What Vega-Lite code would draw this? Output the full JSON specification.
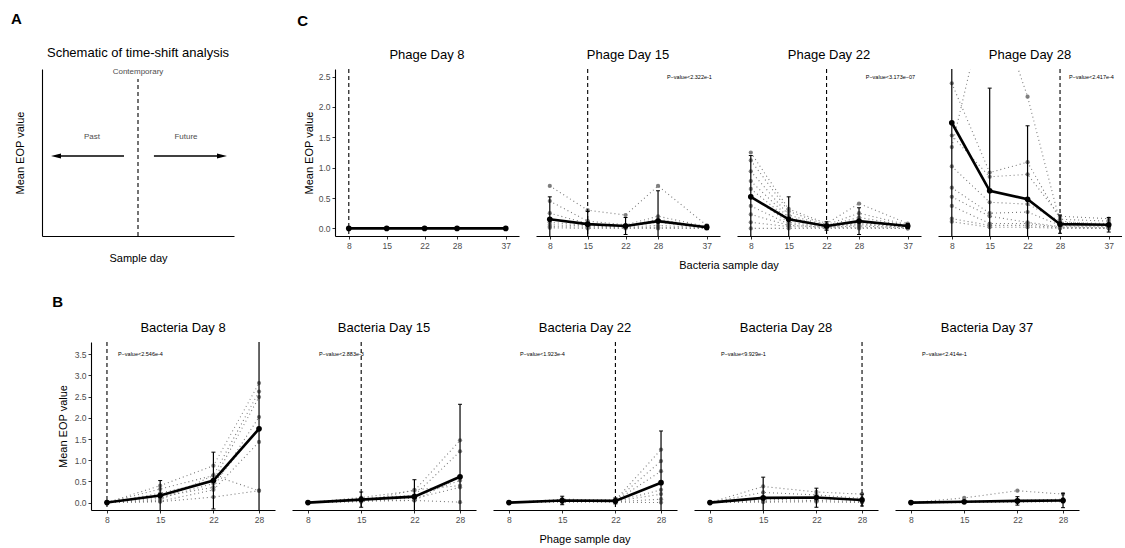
{
 "$schema": "https://vega.github.io/schema/vega-lite/v6.json",
 "padding": {"left": 11, "top": 12, "right": 0, "bottom": 0},
 "background": "white",
 "config": {
  "font": "Liberation Sans",
  "view": {"stroke": null},
  "axis": {"grid": false, "domainColor": "black", "domainWidth": 1.1, "tickColor": "#333333", "tickSize": 3, "tickWidth": 1, "labelColor": "#4d4d4d", "labelFontSize": 8.5, "labelPadding": 2, "labelOverlap": false, "labelSeparation": 0, "titleFontSize": 11, "titleFontWeight": "normal", "titleColor": "black", "titlePadding": 4},
  "axisY": {"labelOverlap": false},
  "header": {"labelFontSize": 13, "labelFontWeight": "normal", "labelColor": "black", "labelPadding": 7, "titleFontSize": 11, "titleFontWeight": "normal", "titleColor": "black", "titleOrient": "bottom", "labelOrient": "top", "titlePadding": 0}
 },
 "datasets": {
  "C": [
   {"t":"rep","f":8,"r":"a","x":8,"v":0},{"t":"rep","f":8,"r":"a","x":15,"v":0},{"t":"rep","f":8,"r":"a","x":22,"v":0},{"t":"rep","f":8,"r":"a","x":28,"v":0},{"t":"rep","f":8,"r":"a","x":37,"v":0},
   {"t":"rep","f":8,"r":"b","x":8,"v":0},{"t":"rep","f":8,"r":"b","x":15,"v":0},{"t":"rep","f":8,"r":"b","x":22,"v":0},{"t":"rep","f":8,"r":"b","x":28,"v":0},{"t":"rep","f":8,"r":"b","x":37,"v":0},
   {"t":"rep","f":15,"r":"a","x":8,"v":0.70},{"t":"rep","f":15,"r":"a","x":15,"v":0.30},{"t":"rep","f":15,"r":"a","x":22,"v":0.22},{"t":"rep","f":15,"r":"a","x":28,"v":0.70},{"t":"rep","f":15,"r":"a","x":37,"v":0.05},
   {"t":"rep","f":15,"r":"b","x":8,"v":0.45},{"t":"rep","f":15,"r":"b","x":15,"v":0.12},{"t":"rep","f":15,"r":"b","x":22,"v":0.06},{"t":"rep","f":15,"r":"b","x":28,"v":0.20},{"t":"rep","f":15,"r":"b","x":37,"v":0.03},
   {"t":"rep","f":15,"r":"c","x":8,"v":0.25},{"t":"rep","f":15,"r":"c","x":15,"v":0.08},{"t":"rep","f":15,"r":"c","x":22,"v":0.04},{"t":"rep","f":15,"r":"c","x":28,"v":0.15},{"t":"rep","f":15,"r":"c","x":37,"v":0.02},
   {"t":"rep","f":15,"r":"d","x":8,"v":0.10},{"t":"rep","f":15,"r":"d","x":15,"v":0.05},{"t":"rep","f":15,"r":"d","x":22,"v":0.03},{"t":"rep","f":15,"r":"d","x":28,"v":0.10},{"t":"rep","f":15,"r":"d","x":37,"v":0.01},
   {"t":"rep","f":15,"r":"e","x":8,"v":0.06},{"t":"rep","f":15,"r":"e","x":15,"v":0.04},{"t":"rep","f":15,"r":"e","x":22,"v":0.02},{"t":"rep","f":15,"r":"e","x":28,"v":0.05},{"t":"rep","f":15,"r":"e","x":37,"v":0.01},
   {"t":"rep","f":15,"r":"f","x":8,"v":0.03},{"t":"rep","f":15,"r":"f","x":15,"v":0.02},{"t":"rep","f":15,"r":"f","x":22,"v":0.01},{"t":"rep","f":15,"r":"f","x":28,"v":0.02},{"t":"rep","f":15,"r":"f","x":37,"v":0},
   {"t":"rep","f":15,"r":"g","x":8,"v":0.01},{"t":"rep","f":15,"r":"g","x":15,"v":0},{"t":"rep","f":15,"r":"g","x":22,"v":0},{"t":"rep","f":15,"r":"g","x":28,"v":0},{"t":"rep","f":15,"r":"g","x":37,"v":0},
   {"t":"rep","f":22,"r":"a","x":8,"v":1.25},{"t":"rep","f":22,"r":"a","x":15,"v":0.32},{"t":"rep","f":22,"r":"a","x":22,"v":0.08},{"t":"rep","f":22,"r":"a","x":28,"v":0.41},{"t":"rep","f":22,"r":"a","x":37,"v":0.08},
   {"t":"rep","f":22,"r":"b","x":8,"v":1.12},{"t":"rep","f":22,"r":"b","x":15,"v":0.28},{"t":"rep","f":22,"r":"b","x":22,"v":0.06},{"t":"rep","f":22,"r":"b","x":28,"v":0.25},{"t":"rep","f":22,"r":"b","x":37,"v":0.06},
   {"t":"rep","f":22,"r":"c","x":8,"v":0.94},{"t":"rep","f":22,"r":"c","x":15,"v":0.22},{"t":"rep","f":22,"r":"c","x":22,"v":0.05},{"t":"rep","f":22,"r":"c","x":28,"v":0.18},{"t":"rep","f":22,"r":"c","x":37,"v":0.05},
   {"t":"rep","f":22,"r":"d","x":8,"v":0.78},{"t":"rep","f":22,"r":"d","x":15,"v":0.18},{"t":"rep","f":22,"r":"d","x":22,"v":0.04},{"t":"rep","f":22,"r":"d","x":28,"v":0.12},{"t":"rep","f":22,"r":"d","x":37,"v":0.04},
   {"t":"rep","f":22,"r":"e","x":8,"v":0.65},{"t":"rep","f":22,"r":"e","x":15,"v":0.15},{"t":"rep","f":22,"r":"e","x":22,"v":0.03},{"t":"rep","f":22,"r":"e","x":28,"v":0.10},{"t":"rep","f":22,"r":"e","x":37,"v":0.03},
   {"t":"rep","f":22,"r":"f","x":8,"v":0.53},{"t":"rep","f":22,"r":"f","x":15,"v":0.10},{"t":"rep","f":22,"r":"f","x":22,"v":0.03},{"t":"rep","f":22,"r":"f","x":28,"v":0.08},{"t":"rep","f":22,"r":"f","x":37,"v":0.02},
   {"t":"rep","f":22,"r":"g","x":8,"v":0.37},{"t":"rep","f":22,"r":"g","x":15,"v":0.07},{"t":"rep","f":22,"r":"g","x":22,"v":0.02},{"t":"rep","f":22,"r":"g","x":28,"v":0.06},{"t":"rep","f":22,"r":"g","x":37,"v":0.02},
   {"t":"rep","f":22,"r":"h","x":8,"v":0.23},{"t":"rep","f":22,"r":"h","x":15,"v":0.05},{"t":"rep","f":22,"r":"h","x":22,"v":0.02},{"t":"rep","f":22,"r":"h","x":28,"v":0.04},{"t":"rep","f":22,"r":"h","x":37,"v":0.01},
   {"t":"rep","f":22,"r":"i","x":8,"v":0.10},{"t":"rep","f":22,"r":"i","x":15,"v":0.03},{"t":"rep","f":22,"r":"i","x":22,"v":0.01},{"t":"rep","f":22,"r":"i","x":28,"v":0.02},{"t":"rep","f":22,"r":"i","x":37,"v":0},
   {"t":"rep","f":22,"r":"j","x":8,"v":0},{"t":"rep","f":22,"r":"j","x":15,"v":0},{"t":"rep","f":22,"r":"j","x":22,"v":0},{"t":"rep","f":22,"r":"j","x":28,"v":0},{"t":"rep","f":22,"r":"j","x":37,"v":0},
   {"t":"rep","f":28,"r":"a","x":8,"v":2.39},{"t":"rep","f":28,"r":"a","x":15,"v":0.92},{"t":"rep","f":28,"r":"a","x":22,"v":1.09},{"t":"rep","f":28,"r":"a","x":28,"v":0.15},{"t":"rep","f":28,"r":"a","x":37,"v":0.12},
   {"t":"rep","f":28,"r":"b","x":8,"v":1.53},{"t":"rep","f":28,"r":"b","x":15,"v":0.85},{"t":"rep","f":28,"r":"b","x":22,"v":0.89},{"t":"rep","f":28,"r":"b","x":28,"v":0.20},{"t":"rep","f":28,"r":"b","x":37,"v":0.16},
   {"t":"rep","f":28,"r":"c","x":8,"v":1.34},{"t":"rep","f":28,"r":"c","x":15,"v":4.0},{"t":"rep","f":28,"r":"c","x":22,"v":2.17},{"t":"rep","f":28,"r":"c","x":28,"v":0.10},{"t":"rep","f":28,"r":"c","x":37,"v":0.08},
   {"t":"rep","f":28,"r":"d","x":8,"v":1.02},{"t":"rep","f":28,"r":"d","x":15,"v":0.43},{"t":"rep","f":28,"r":"d","x":22,"v":0.40},{"t":"rep","f":28,"r":"d","x":28,"v":0.12},{"t":"rep","f":28,"r":"d","x":37,"v":0.05},
   {"t":"rep","f":28,"r":"e","x":8,"v":0.67},{"t":"rep","f":28,"r":"e","x":15,"v":0.25},{"t":"rep","f":28,"r":"e","x":22,"v":0.27},{"t":"rep","f":28,"r":"e","x":28,"v":0.05},{"t":"rep","f":28,"r":"e","x":37,"v":0.03},
   {"t":"rep","f":28,"r":"f","x":8,"v":0.52},{"t":"rep","f":28,"r":"f","x":15,"v":0.20},{"t":"rep","f":28,"r":"f","x":22,"v":0.10},{"t":"rep","f":28,"r":"f","x":28,"v":0.03},{"t":"rep","f":28,"r":"f","x":37,"v":0.02},
   {"t":"rep","f":28,"r":"g","x":8,"v":0.37},{"t":"rep","f":28,"r":"g","x":15,"v":0.08},{"t":"rep","f":28,"r":"g","x":22,"v":0.08},{"t":"rep","f":28,"r":"g","x":28,"v":0.02},{"t":"rep","f":28,"r":"g","x":37,"v":0.01},
   {"t":"rep","f":28,"r":"h","x":8,"v":0.16},{"t":"rep","f":28,"r":"h","x":15,"v":0.05},{"t":"rep","f":28,"r":"h","x":22,"v":0.05},{"t":"rep","f":28,"r":"h","x":28,"v":0.01},{"t":"rep","f":28,"r":"h","x":37,"v":0},
   {"t":"rep","f":28,"r":"i","x":8,"v":0.11},{"t":"rep","f":28,"r":"i","x":15,"v":0.02},{"t":"rep","f":28,"r":"i","x":22,"v":0.02},{"t":"rep","f":28,"r":"i","x":28,"v":0},{"t":"rep","f":28,"r":"i","x":37,"v":0},
   {"t":"mean","f":8,"x":8,"v":0,"lo":0,"hi":0},{"t":"mean","f":8,"x":15,"v":0,"lo":0,"hi":0},{"t":"mean","f":8,"x":22,"v":0,"lo":0,"hi":0},{"t":"mean","f":8,"x":28,"v":0,"lo":0,"hi":0},{"t":"mean","f":8,"x":37,"v":0,"lo":0,"hi":0},
   {"t":"mean","f":15,"x":8,"v":0.15,"lo":-0.22,"hi":0.52},{"t":"mean","f":15,"x":15,"v":0.07,"lo":-0.14,"hi":0.28},{"t":"mean","f":15,"x":22,"v":0.04,"lo":-0.10,"hi":0.18},{"t":"mean","f":15,"x":28,"v":0.12,"lo":-0.38,"hi":0.62},{"t":"mean","f":15,"x":37,"v":0.02,"lo":-0.02,"hi":0.06},
   {"t":"mean","f":22,"x":8,"v":0.52,"lo":-0.16,"hi":1.2},{"t":"mean","f":22,"x":15,"v":0.15,"lo":-0.22,"hi":0.52},{"t":"mean","f":22,"x":22,"v":0.04,"lo":-0.03,"hi":0.11},{"t":"mean","f":22,"x":28,"v":0.12,"lo":-0.10,"hi":0.34},{"t":"mean","f":22,"x":37,"v":0.04,"lo":0,"hi":0.08},
   {"t":"mean","f":28,"x":8,"v":1.74,"lo":-0.26,"hi":3.74},{"t":"mean","f":28,"x":15,"v":0.62,"lo":-1.07,"hi":2.31},{"t":"mean","f":28,"x":22,"v":0.48,"lo":-0.73,"hi":1.69},{"t":"mean","f":28,"x":28,"v":0.07,"lo":-0.08,"hi":0.22},{"t":"mean","f":28,"x":37,"v":0.06,"lo":-0.06,"hi":0.18},
   {"t":"ref","f":8,"x":8},{"t":"ref","f":15,"x":15},{"t":"ref","f":22,"x":22},{"t":"ref","f":28,"x":28},
   {"t":"p","f":15,"label":"P−value<2.322e-1"},{"t":"p","f":22,"label":"P−value<3.173e−07"},{"t":"p","f":28,"label":"P−value<2.417e-4"}
  ],
  "B": [
   {"t":"rep","f":8,"r":"a","x":8,"v":0},{"t":"rep","f":8,"r":"a","x":15,"v":0.40},{"t":"rep","f":8,"r":"a","x":22,"v":0.87},{"t":"rep","f":8,"r":"a","x":28,"v":2.82},
   {"t":"rep","f":8,"r":"b","x":8,"v":0},{"t":"rep","f":8,"r":"b","x":15,"v":0.32},{"t":"rep","f":8,"r":"b","x":22,"v":0.64},{"t":"rep","f":8,"r":"b","x":28,"v":2.62},
   {"t":"rep","f":8,"r":"c","x":8,"v":0},{"t":"rep","f":8,"r":"c","x":15,"v":0.22},{"t":"rep","f":8,"r":"c","x":22,"v":0.52},{"t":"rep","f":8,"r":"c","x":28,"v":2.49},
   {"t":"rep","f":8,"r":"d","x":8,"v":0},{"t":"rep","f":8,"r":"d","x":15,"v":0.14},{"t":"rep","f":8,"r":"d","x":22,"v":0.36},{"t":"rep","f":8,"r":"d","x":28,"v":2.02},
   {"t":"rep","f":8,"r":"e","x":8,"v":0},{"t":"rep","f":8,"r":"e","x":15,"v":0.06},{"t":"rep","f":8,"r":"e","x":22,"v":0.64},{"t":"rep","f":8,"r":"e","x":28,"v":0.28},
   {"t":"rep","f":8,"r":"f","x":8,"v":0},{"t":"rep","f":8,"r":"f","x":15,"v":0.02},{"t":"rep","f":8,"r":"f","x":22,"v":0.13},{"t":"rep","f":8,"r":"f","x":28,"v":0.28},
   {"t":"rep","f":8,"r":"g","x":8,"v":0},{"t":"rep","f":8,"r":"g","x":15,"v":0.10},{"t":"rep","f":8,"r":"g","x":22,"v":0.45},{"t":"rep","f":8,"r":"g","x":28,"v":1.75},
   {"t":"rep","f":8,"r":"h","x":8,"v":0},{"t":"rep","f":8,"r":"h","x":15,"v":0.03},{"t":"rep","f":8,"r":"h","x":22,"v":0.30},{"t":"rep","f":8,"r":"h","x":28,"v":1.43},
   {"t":"rep","f":15,"r":"a","x":8,"v":0},{"t":"rep","f":15,"r":"a","x":15,"v":0.12},{"t":"rep","f":15,"r":"a","x":22,"v":0.28},{"t":"rep","f":15,"r":"a","x":28,"v":1.47},
   {"t":"rep","f":15,"r":"b","x":8,"v":0},{"t":"rep","f":15,"r":"b","x":15,"v":0.10},{"t":"rep","f":15,"r":"b","x":22,"v":0.17},{"t":"rep","f":15,"r":"b","x":28,"v":1.21},
   {"t":"rep","f":15,"r":"c","x":8,"v":0},{"t":"rep","f":15,"r":"c","x":15,"v":0.08},{"t":"rep","f":15,"r":"c","x":22,"v":0.15},{"t":"rep","f":15,"r":"c","x":28,"v":0.52},
   {"t":"rep","f":15,"r":"d","x":8,"v":0},{"t":"rep","f":15,"r":"d","x":15,"v":0.06},{"t":"rep","f":15,"r":"d","x":22,"v":0.10},{"t":"rep","f":15,"r":"d","x":28,"v":0.36},
   {"t":"rep","f":15,"r":"e","x":8,"v":0},{"t":"rep","f":15,"r":"e","x":15,"v":0.05},{"t":"rep","f":15,"r":"e","x":22,"v":0.05},{"t":"rep","f":15,"r":"e","x":28,"v":0.60},
   {"t":"rep","f":15,"r":"f","x":8,"v":0},{"t":"rep","f":15,"r":"f","x":15,"v":0.03},{"t":"rep","f":15,"r":"f","x":22,"v":0.05},{"t":"rep","f":15,"r":"f","x":28,"v":0.01},
   {"t":"rep","f":15,"r":"g","x":8,"v":0},{"t":"rep","f":15,"r":"g","x":15,"v":0.02},{"t":"rep","f":15,"r":"g","x":22,"v":0.30},{"t":"rep","f":15,"r":"g","x":28,"v":0.40},
   {"t":"rep","f":22,"r":"a","x":8,"v":0},{"t":"rep","f":22,"r":"a","x":15,"v":0.08},{"t":"rep","f":22,"r":"a","x":22,"v":0.06},{"t":"rep","f":22,"r":"a","x":28,"v":1.25},
   {"t":"rep","f":22,"r":"b","x":8,"v":0},{"t":"rep","f":22,"r":"b","x":15,"v":0.06},{"t":"rep","f":22,"r":"b","x":22,"v":0.05},{"t":"rep","f":22,"r":"b","x":28,"v":0.98},
   {"t":"rep","f":22,"r":"c","x":8,"v":0},{"t":"rep","f":22,"r":"c","x":15,"v":0.05},{"t":"rep","f":22,"r":"c","x":22,"v":0.04},{"t":"rep","f":22,"r":"c","x":28,"v":0.74},
   {"t":"rep","f":22,"r":"d","x":8,"v":0},{"t":"rep","f":22,"r":"d","x":15,"v":0.04},{"t":"rep","f":22,"r":"d","x":22,"v":0.03},{"t":"rep","f":22,"r":"d","x":28,"v":0.30},
   {"t":"rep","f":22,"r":"e","x":8,"v":0},{"t":"rep","f":22,"r":"e","x":15,"v":0.03},{"t":"rep","f":22,"r":"e","x":22,"v":0.03},{"t":"rep","f":22,"r":"e","x":28,"v":0.20},
   {"t":"rep","f":22,"r":"f","x":8,"v":0},{"t":"rep","f":22,"r":"f","x":15,"v":0.02},{"t":"rep","f":22,"r":"f","x":22,"v":0.02},{"t":"rep","f":22,"r":"f","x":28,"v":0.08},
   {"t":"rep","f":22,"r":"g","x":8,"v":0},{"t":"rep","f":22,"r":"g","x":15,"v":0.01},{"t":"rep","f":22,"r":"g","x":22,"v":0.01},{"t":"rep","f":22,"r":"g","x":28,"v":0},
   {"t":"rep","f":28,"r":"a","x":8,"v":0},{"t":"rep","f":28,"r":"a","x":15,"v":0.38},{"t":"rep","f":28,"r":"a","x":22,"v":0.25},{"t":"rep","f":28,"r":"a","x":28,"v":0.20},
   {"t":"rep","f":28,"r":"b","x":8,"v":0},{"t":"rep","f":28,"r":"b","x":15,"v":0.24},{"t":"rep","f":28,"r":"b","x":22,"v":0.18},{"t":"rep","f":28,"r":"b","x":28,"v":0.10},
   {"t":"rep","f":28,"r":"c","x":8,"v":0},{"t":"rep","f":28,"r":"c","x":15,"v":0.12},{"t":"rep","f":28,"r":"c","x":22,"v":0.12},{"t":"rep","f":28,"r":"c","x":28,"v":0.05},
   {"t":"rep","f":28,"r":"d","x":8,"v":0},{"t":"rep","f":28,"r":"d","x":15,"v":0.06},{"t":"rep","f":28,"r":"d","x":22,"v":0.10},{"t":"rep","f":28,"r":"d","x":28,"v":0.04},
   {"t":"rep","f":28,"r":"e","x":8,"v":0},{"t":"rep","f":28,"r":"e","x":15,"v":0.03},{"t":"rep","f":28,"r":"e","x":22,"v":0.05},{"t":"rep","f":28,"r":"e","x":28,"v":0.02},
   {"t":"rep","f":28,"r":"f","x":8,"v":0},{"t":"rep","f":28,"r":"f","x":15,"v":0.01},{"t":"rep","f":28,"r":"f","x":22,"v":0.02},{"t":"rep","f":28,"r":"f","x":28,"v":0},
   {"t":"rep","f":37,"r":"a","x":8,"v":0},{"t":"rep","f":37,"r":"a","x":15,"v":0.11},{"t":"rep","f":37,"r":"a","x":22,"v":0.28},{"t":"rep","f":37,"r":"a","x":28,"v":0.20},
   {"t":"rep","f":37,"r":"b","x":8,"v":0},{"t":"rep","f":37,"r":"b","x":15,"v":0.03},{"t":"rep","f":37,"r":"b","x":22,"v":0.05},{"t":"rep","f":37,"r":"b","x":28,"v":0.08},
   {"t":"rep","f":37,"r":"c","x":8,"v":0},{"t":"rep","f":37,"r":"c","x":15,"v":0.01},{"t":"rep","f":37,"r":"c","x":22,"v":0.03},{"t":"rep","f":37,"r":"c","x":28,"v":0.05},
   {"t":"rep","f":37,"r":"d","x":8,"v":0},{"t":"rep","f":37,"r":"d","x":15,"v":0},{"t":"rep","f":37,"r":"d","x":22,"v":0.01},{"t":"rep","f":37,"r":"d","x":28,"v":0.02},
   {"t":"mean","f":8,"x":8,"v":0,"lo":0,"hi":0},{"t":"mean","f":8,"x":15,"v":0.165,"lo":-0.19,"hi":0.52},{"t":"mean","f":8,"x":22,"v":0.52,"lo":-0.15,"hi":1.19},{"t":"mean","f":8,"x":28,"v":1.74,"lo":-0.5,"hi":3.98},
   {"t":"mean","f":15,"x":8,"v":0,"lo":0,"hi":0},{"t":"mean","f":15,"x":15,"v":0.07,"lo":-0.11,"hi":0.25},{"t":"mean","f":15,"x":22,"v":0.14,"lo":-0.26,"hi":0.54},{"t":"mean","f":15,"x":28,"v":0.61,"lo":-1.1,"hi":2.32},
   {"t":"mean","f":22,"x":8,"v":0,"lo":0,"hi":0},{"t":"mean","f":22,"x":15,"v":0.05,"lo":-0.05,"hi":0.15},{"t":"mean","f":22,"x":22,"v":0.04,"lo":-0.03,"hi":0.11},{"t":"mean","f":22,"x":28,"v":0.47,"lo":-0.75,"hi":1.69},
   {"t":"mean","f":28,"x":8,"v":0,"lo":0,"hi":0},{"t":"mean","f":28,"x":15,"v":0.11,"lo":-0.38,"hi":0.60},{"t":"mean","f":28,"x":22,"v":0.12,"lo":-0.11,"hi":0.34},{"t":"mean","f":28,"x":28,"v":0.06,"lo":-0.08,"hi":0.20},
   {"t":"mean","f":37,"x":8,"v":0,"lo":0,"hi":0},{"t":"mean","f":37,"x":15,"v":0.02,"lo":0,"hi":0.04},{"t":"mean","f":37,"x":22,"v":0.04,"lo":-0.06,"hi":0.14},{"t":"mean","f":37,"x":28,"v":0.05,"lo":-0.12,"hi":0.22},
   {"t":"ref","f":8,"x":8},{"t":"ref","f":15,"x":15},{"t":"ref","f":22,"x":22},{"t":"ref","f":28,"x":28},{"t":"ref","f":37,"x":37},
   {"t":"p","f":8,"label":"P−value<2.546e-4"},{"t":"p","f":15,"label":"P−value<2.883e-3"},{"t":"p","f":22,"label":"P−value<1.923e-4"},{"t":"p","f":28,"label":"P−value<9.929e-1"},{"t":"p","f":37,"label":"P−value<2.414e-1"}
  ]
 },
 "vconcat": [
  {
   "spacing": 63,
   "hconcat": [
    {
     "title": {"text": "A", "anchor": "start", "fontSize": 15, "fontWeight": "bold", "offset": 20, "dx": -3, "color": "black"},
     "hconcat": [
      {
       "title": {"text": "Schematic of time-shift analysis", "fontSize": 13, "fontWeight": "normal", "anchor": "middle", "offset": 8, "color": "black"},
       "width": 192, "height": 167,
       "data": {"values": [{}]},
       "layer": [
        {"mark": {"type": "rule", "strokeDash": [4, 3], "strokeWidth": 1.1, "color": "black"},
         "encoding": {
          "x": {"datum": 5, "type": "quantitative", "scale": {"domain": [0, 10], "nice": false, "zero": false}, "axis": {"title": "Sample day", "labels": false, "ticks": false, "titlePadding": 16}},
          "y": {"datum": 0, "type": "quantitative", "scale": {"domain": [0, 10], "nice": false}, "axis": {"title": "Mean EOP value", "labels": false, "ticks": false, "titlePadding": 17}},
          "y2": {"datum": 9.4}}},
        {"mark": {"type": "rule", "strokeWidth": 1.6, "color": "black"},
         "encoding": {"x": {"datum": 4.27, "type": "quantitative"}, "x2": {"datum": 0.9}, "y": {"datum": 4.79, "type": "quantitative"}}},
        {"mark": {"type": "rule", "strokeWidth": 1.6, "color": "black"},
         "encoding": {"x": {"datum": 5.83, "type": "quantitative"}, "x2": {"datum": 9.2}, "y": {"datum": 4.79, "type": "quantitative"}}},
        {"mark": {"type": "point", "filled": true, "color": "black", "opacity": 1, "size": 100, "shape": "M-1,0L1,-0.5L1,0.5Z"},
         "encoding": {"x": {"datum": 0.73, "type": "quantitative"}, "y": {"datum": 4.79, "type": "quantitative"}}},
        {"mark": {"type": "point", "filled": true, "color": "black", "opacity": 1, "size": 100, "shape": "M1,0L-1,-0.5L-1,0.5Z"},
         "encoding": {"x": {"datum": 9.375, "type": "quantitative"}, "y": {"datum": 4.79, "type": "quantitative"}}},
        {"mark": {"type": "text", "fontSize": 8, "color": "#4d4d4d"},
         "encoding": {"x": {"datum": 5, "type": "quantitative"}, "y": {"datum": 9.82, "type": "quantitative"}, "text": {"value": "Contemporary"}}},
        {"mark": {"type": "text", "fontSize": 8, "color": "#4d4d4d"},
         "encoding": {"x": {"datum": 2.6, "type": "quantitative"}, "y": {"datum": 5.93, "type": "quantitative"}, "text": {"value": "Past"}}},
        {"mark": {"type": "text", "fontSize": 8, "color": "#4d4d4d"},
         "encoding": {"x": {"datum": 7.5, "type": "quantitative"}, "y": {"datum": 5.93, "type": "quantitative"}, "text": {"value": "Future"}}}
       ]
      }
     ]
    },
    {
     "title": {"text": "C", "anchor": "start", "fontSize": 15, "fontWeight": "bold", "offset": 20, "dx": -6, "color": "black"},
     "data": {"name": "C"},
     "facet": {"column": {"field": "f", "type": "ordinal", "sort": [8, 15, 22, 28], "header": {"title": "Bacteria sample day", "labelExpr": "'Phage Day ' + datum.value"}}},
     "spacing": {"column": 17},
     "spec": {
      "width": 184, "height": 167,
      "layer": [
       {"transform": [{"filter": "datum.t === 'rep'"}],
        "mark": {"type": "line", "strokeDash": [1, 3], "strokeWidth": 1.1, "color": "#7a7a7a", "clip": true},
        "encoding": {
         "x": {"field": "x", "type": "quantitative", "scale": {"domain": [5.45, 39.45], "nice": false, "zero": false}, "axis": {"values": [8, 15, 22, 28, 37], "title": null}},
         "y": {"field": "v", "type": "quantitative", "scale": {"domain": [-0.125, 2.625], "nice": false}, "axis": {"values": [0, 0.5, 1, 1.5, 2, 2.5], "tickCount": 6, "format": ".1f", "labelOverlap": false, "labelSeparation": 0, "title": "Mean EOP value"}},
         "detail": {"field": "r"}}},
       {"transform": [{"filter": "datum.t === 'rep'"}],
        "mark": {"type": "point", "filled": true, "size": 18, "color": "#6a6a6a", "opacity": 0.85, "clip": true},
        "encoding": {"x": {"field": "x", "type": "quantitative"}, "y": {"field": "v", "type": "quantitative"}}},
       {"transform": [{"filter": "datum.t === 'mean'"}],
        "mark": {"type": "rule", "strokeWidth": 1.2, "color": "black", "clip": true},
        "encoding": {"x": {"field": "x", "type": "quantitative"}, "y": {"field": "lo", "type": "quantitative"}, "y2": {"field": "hi"}}},
       {"transform": [{"filter": "datum.t === 'mean'"}],
        "mark": {"type": "tick", "orient": "horizontal", "size": 4, "thickness": 1, "color": "black", "opacity": 1, "clip": true},
        "encoding": {"x": {"field": "x", "type": "quantitative"}, "y": {"field": "hi", "type": "quantitative"}}},
       {"transform": [{"filter": "datum.t === 'mean'"}],
        "mark": {"type": "tick", "orient": "horizontal", "size": 4, "thickness": 1, "color": "black", "opacity": 1, "clip": true},
        "encoding": {"x": {"field": "x", "type": "quantitative"}, "y": {"field": "lo", "type": "quantitative"}}},
       {"transform": [{"filter": "datum.t === 'mean'"}],
        "mark": {"type": "line", "strokeWidth": 2.6, "color": "black", "clip": true},
        "encoding": {"x": {"field": "x", "type": "quantitative"}, "y": {"field": "v", "type": "quantitative"}}},
       {"transform": [{"filter": "datum.t === 'mean'"}],
        "mark": {"type": "point", "filled": true, "size": 32, "color": "black", "opacity": 1, "clip": true},
        "encoding": {"x": {"field": "x", "type": "quantitative"}, "y": {"field": "v", "type": "quantitative"}}},
       {"transform": [{"filter": "datum.t === 'ref'"}],
        "mark": {"type": "rule", "strokeDash": [4, 3], "strokeWidth": 1.1, "color": "black", "clip": true},
        "encoding": {"x": {"field": "x", "type": "quantitative"}}},
       {"transform": [{"filter": "datum.t === 'p'"}],
        "mark": {"type": "text", "fontSize": 5.5, "color": "black"},
        "encoding": {"x": {"datum": 33.8, "type": "quantitative"}, "y": {"datum": 2.5, "type": "quantitative"}, "text": {"field": "label"}}}
      ]
     }
    }
   ]
  },
  {
   "spacing": 6,
   "hconcat": [
    {"width": 1, "height": 1, "data": {"values": [{}]}, "mark": {"type": "point", "opacity": 0}, "encoding": {}},
    {
     "title": {"text": "B", "anchor": "start", "fontSize": 15, "fontWeight": "bold", "offset": 12, "dx": -5, "color": "black"},
     "data": {"name": "B"},
     "facet": {"column": {"field": "f", "type": "ordinal", "sort": [8, 15, 22, 28, 37], "header": {"title": "Phage sample day", "labelExpr": "'Bacteria Day ' + datum.value"}}},
     "spacing": {"column": 17},
     "spec": {
      "width": 184, "height": 168,
      "layer": [
       {"transform": [{"filter": "datum.t === 'rep'"}],
        "mark": {"type": "line", "strokeDash": [1, 3], "strokeWidth": 1.1, "color": "#7a7a7a", "clip": true},
        "encoding": {
         "x": {"field": "x", "type": "quantitative", "scale": {"domain": [5.9, 30.1], "nice": false, "zero": false}, "axis": {"values": [8, 15, 22, 28], "title": null}},
         "y": {"field": "v", "type": "quantitative", "scale": {"domain": [-0.175, 3.79], "nice": false}, "axis": {"values": [0, 0.5, 1, 1.5, 2, 2.5, 3, 3.5], "tickCount": 8, "format": ".1f", "labelOverlap": false, "labelSeparation": 0, "title": "Mean EOP value", "titlePadding": 6}},
         "detail": {"field": "r"}}},
       {"transform": [{"filter": "datum.t === 'rep'"}],
        "mark": {"type": "point", "filled": true, "size": 18, "color": "#6a6a6a", "opacity": 0.85, "clip": true},
        "encoding": {"x": {"field": "x", "type": "quantitative"}, "y": {"field": "v", "type": "quantitative"}}},
       {"transform": [{"filter": "datum.t === 'mean'"}],
        "mark": {"type": "rule", "strokeWidth": 1.2, "color": "black", "clip": true},
        "encoding": {"x": {"field": "x", "type": "quantitative"}, "y": {"field": "lo", "type": "quantitative"}, "y2": {"field": "hi"}}},
       {"transform": [{"filter": "datum.t === 'mean'"}],
        "mark": {"type": "tick", "orient": "horizontal", "size": 4, "thickness": 1, "color": "black", "opacity": 1, "clip": true},
        "encoding": {"x": {"field": "x", "type": "quantitative"}, "y": {"field": "hi", "type": "quantitative"}}},
       {"transform": [{"filter": "datum.t === 'mean'"}],
        "mark": {"type": "tick", "orient": "horizontal", "size": 4, "thickness": 1, "color": "black", "opacity": 1, "clip": true},
        "encoding": {"x": {"field": "x", "type": "quantitative"}, "y": {"field": "lo", "type": "quantitative"}}},
       {"transform": [{"filter": "datum.t === 'mean'"}],
        "mark": {"type": "line", "strokeWidth": 2.6, "color": "black", "clip": true},
        "encoding": {"x": {"field": "x", "type": "quantitative"}, "y": {"field": "v", "type": "quantitative"}}},
       {"transform": [{"filter": "datum.t === 'mean'"}],
        "mark": {"type": "point", "filled": true, "size": 32, "color": "black", "opacity": 1, "clip": true},
        "encoding": {"x": {"field": "x", "type": "quantitative"}, "y": {"field": "v", "type": "quantitative"}}},
       {"transform": [{"filter": "datum.t === 'ref'"}],
        "mark": {"type": "rule", "strokeDash": [4, 3], "strokeWidth": 1.1, "color": "black", "clip": true},
        "encoding": {"x": {"field": "x", "type": "quantitative"}}},
       {"transform": [{"filter": "datum.t === 'p'"}],
        "mark": {"type": "text", "fontSize": 5.5, "color": "black"},
        "encoding": {"x": {"datum": 12.4, "type": "quantitative"}, "y": {"datum": 3.5, "type": "quantitative"}, "text": {"field": "label"}}}
      ]
     }
    }
   ]
  }
 ],
 "spacing": 24
}
